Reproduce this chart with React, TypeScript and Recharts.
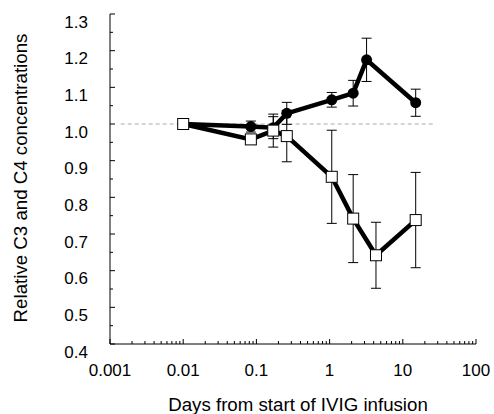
import React from 'react';
import { ComposedChart, Scatter, XAxis, YAxis, ErrorBar, ReferenceLine } from 'recharts';

// C3 (filled circles)
const c3Days = [0.01, 0.084, 0.17, 0.26, 1.07, 2.1, 3.2, 15];
const c3Values = [1.0, 0.993, 0.99, 1.029, 1.066, 1.084, 1.175, 1.058];
const c3Errors = [0, 0.015, 0.03, 0.03, 0.02, 0.035, 0.059, 0.037];

// C4 (open squares)
const c4Days = [0.01, 0.084, 0.17, 0.26, 1.07, 2.1, 4.3, 15];
const c4Values = [1.0, 0.958, 0.982, 0.967, 0.856, 0.742, 0.642, 0.738];
const c4Errors = [0, 0.005, 0.045, 0.07, 0.127, 0.12, 0.09, 0.13];

const xTicks = [
  0.001, 0.002, 0.003, 0.004, 0.005, 0.006, 0.007, 0.008, 0.009,
  0.01, 0.02, 0.03, 0.04, 0.05, 0.06, 0.07, 0.08, 0.09,
  0.1, 0.2, 0.3, 0.4, 0.5, 0.6, 0.7, 0.8, 0.9,
  1, 2, 3, 4, 5, 6, 7, 8, 9,
  10, 20, 30, 40, 50, 60, 70, 80, 90,
  100,
];
const xMajorTicks = [0.001, 0.01, 0.1, 1, 10, 100];
const xTickLabels = ['0.001', '0.01', '0.1', '1', '10', '100'];

const yTicks = [0.4, 0.45, 0.5, 0.55, 0.6, 0.65, 0.7, 0.75, 0.8, 0.85, 0.9, 0.95, 1.0, 1.05, 1.1, 1.15, 1.2, 1.25, 1.3];

const c3Data = c3Days.map((d, i) => ({ x: d, y: c3Values[i], err: c3Errors[i] }));
const c4Data = c4Days.map((d, i) => ({ x: d, y: c4Values[i], err: c4Errors[i] }));

const FONT = 'Liberation Sans, Arial, Helvetica, sans-serif';

const XTick = (props: any) => {
  const { x, y, payload } = props;
  const v = payload.value;
  const idx = xMajorTicks.findIndex((m) => Math.abs(m - v) / m < 1e-6);
  const major = idx >= 0;
  return (
    <g>
      <line x1={x} x2={x} y1={y} y2={y - (major ? 5 : 3)} stroke="#000" strokeWidth={1} />
      {major && (
        <text x={x} y={y + 26} textAnchor="middle" dominantBaseline="central" fontSize={17} fontFamily={FONT} fill="#000">
          {xTickLabels[idx]}
        </text>
      )}
    </g>
  );
};

const YTick = (props: any) => {
  const { x, y, payload } = props;
  const v = payload.value;
  const major = Math.round(v * 100) % 10 === 0;
  return (
    <g>
      <line x1={x} x2={x + (major ? 5 : 3)} y1={y} y2={y} stroke="#000" strokeWidth={1} />
      {major && (
        <text x={x - 22} y={y + 8} textAnchor="end" dominantBaseline="central" fontSize={17} fontFamily={FONT} fill="#000">
          {v.toFixed(1)}
        </text>
      )}
    </g>
  );
};

const CircleShape = (p: any) => <circle cx={p.cx} cy={p.cy} r={5.5} fill="#000" />;
const SquareShape = (p: any) => (
  <rect x={p.cx - 5.5} y={p.cy - 5.5} width={11} height={11} fill="#fff" stroke="#000" strokeWidth={1} />
);

export default function App() {
  return (
    <div style={{ position: 'absolute', left: 0, top: 0, width: 494, height: 414, background: '#fff' }}>
      <ComposedChart width={494} height={414} margin={{ top: 14, right: 18, bottom: 0, left: 0 }}>
        <XAxis
          dataKey="x"
          type="number"
          scale="log"
          domain={[0.001, 100]}
          allowDataOverflow
          ticks={xTicks}
          interval={0}
          tick={<XTick />}
          tickLine={false}
          tickSize={0}
          tickMargin={0}
          height={70}
          axisLine={{ stroke: '#000', strokeWidth: 1 }}
          label={{
            content: () => (
              <text x={298} y={404} textAnchor="middle" dominantBaseline="central" fontSize={18.7} fontFamily={FONT} fill="#000">
                Days from start of IVIG infusion
              </text>
            ),
          }}
        />
        <YAxis
          dataKey="y"
          type="number"
          domain={[0.4, 1.3]}
          allowDataOverflow
          ticks={yTicks}
          interval={0}
          tick={<YTick />}
          tickLine={false}
          tickSize={0}
          tickMargin={0}
          width={110}
          axisLine={{ stroke: '#000', strokeWidth: 1 }}
          label={{
            content: () => (
              <text
                x={20}
                y={178}
                transform="rotate(-90 20 178)"
                textAnchor="middle"
                dominantBaseline="central"
                fontSize={18.7}
                fontFamily={FONT}
                fill="#000"
              >
                Relative C3 and C4 concentrations
              </text>
            ),
          }}
        />
        <ReferenceLine
          segment={[{ x: 0.0014, y: 1 }, { x: 28, y: 1 }]}
          stroke="#aaa"
          strokeDasharray="4 3"
          strokeWidth={1}
        />
        <Scatter
          data={c3Data}
          line={{ stroke: '#000', strokeWidth: 4.5 }}
          shape={CircleShape}
          isAnimationActive={false}
        >
          <ErrorBar dataKey="err" direction="y" width={5} stroke="#000" strokeWidth={1} />
        </Scatter>
        <Scatter
          data={c4Data}
          line={{ stroke: '#000', strokeWidth: 4.5 }}
          shape={SquareShape}
          isAnimationActive={false}
        >
          <ErrorBar dataKey="err" direction="y" width={5} stroke="#000" strokeWidth={1} />
        </Scatter>
      </ComposedChart>
    </div>
  );
}
